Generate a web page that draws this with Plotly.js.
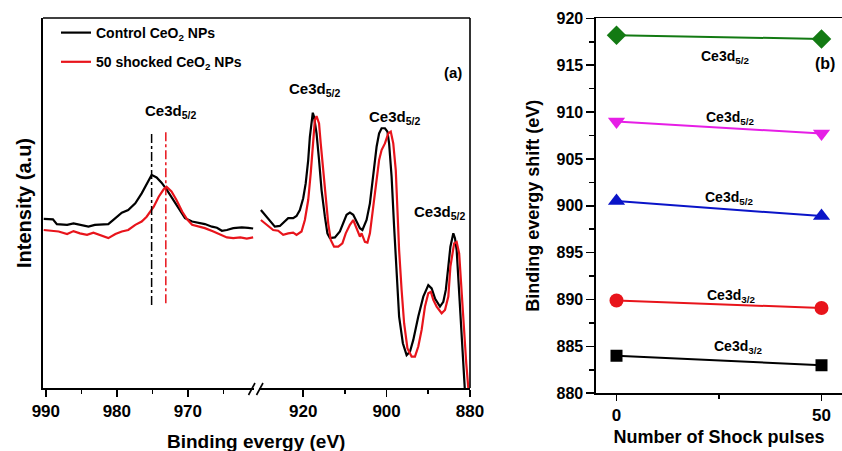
<!DOCTYPE html>
<html>
<head>
<meta charset="utf-8">
<script src="https://cdn.plot.ly/plotly-3.0.1.min.js"></script>
<style>html,body{margin:0;padding:0;background:#fff;}#chart{width:842px;height:451px;}</style>
</head>
<body>
<div id="chart"></div>
<script>
// ---------- Panel (a): XPS spectra, high-energy segment (990-960 eV) ----------
const seg1EnergyControl = [990.3,989.0,988.45,987.0,986.1,984.9,984.0,983.1,982.1,981.2,980.2,979.3,978.4,977.4,976.5,975.8,975.1,974.4,973.7,973.0,972.0,971.1,970.4,969.4,968.5,967.6,966.6,965.9,965.2,964.5,963.6,962.4,961.5,960.8];
const seg1IntensityControl = [45.7,45.6,44.3,44.1,44.5,44.1,43.6,44.1,44.3,44.3,45.9,47.4,48.1,49.9,52.6,55.3,57.6,56.9,55.5,53.7,50.8,48.1,45.9,45.0,44.7,44.3,43.6,43.3,42.5,42.7,43.2,43.4,43.3,43.1];
const seg1EnergyShocked = [990.3,989.4,988.2,987.0,986.1,985.2,984.2,983.3,982.4,981.2,980.2,979.3,978.4,977.4,976.5,975.8,974.8,974.1,973.4,973.0,972.3,971.6,970.8,970.1,969.4,968.5,967.6,966.4,965.4,964.5,963.6,962.6,961.7,960.8];
const seg1IntensityShocked = [42.7,42.5,42.3,41.6,42.4,41.8,41.4,42.0,41.4,40.5,41.6,42.3,42.7,44.1,45.0,46.3,49.0,51.7,53.7,54.4,53.1,50.8,47.7,45.6,44.1,43.6,43.2,42.3,41.4,40.7,40.5,40.7,40.4,40.7];

// ---------- Panel (a): low-energy segment (930-880 eV) ----------
const seg2EnergyControl = [930.15,929.2,928.0,926.8,925.6,924.4,923.6,922.4,921.6,920.8,920.0,919.4,918.8,918.4,918.0,917.7,917.4,916.8,916.2,915.6,914.8,914.2,913.6,912.4,911.2,910.4,909.6,908.8,908.0,907.2,906.4,905.8,904.8,904.0,903.2,902.4,901.8,901.2,900.4,899.8,899.4,898.8,898.2,897.6,897.0,896.1,895.2,894.4,893.6,892.4,891.2,890.0,889.2,888.4,887.2,886.4,885.8,885.2,884.7,884.0,883.6,883.2,882.6,882.0,881.4,881.0];
const seg2IntensityControl = [48.1,46.8,45.0,43.6,43.8,45.2,45.9,45.9,46.5,48.1,51.3,55.3,61.6,67.9,72.9,74.4,73.3,68.8,61.6,53.5,46.3,41.8,40.5,40.7,42.3,44.5,46.8,47.4,46.8,45.0,43.2,42.7,45.4,49.9,57.1,65.2,68.8,70.2,70.2,69.3,66.1,57.1,43.6,30.1,19.3,12.1,8.9,9.8,13.0,19.3,24.7,27.8,26.9,24.2,22.0,23.3,26.5,32.8,38.2,41.8,40.5,37.3,24.7,12.1,0.1,-5];
const seg2EnergyShocked = [930.15,928.8,927.2,926.0,924.8,923.6,922.4,921.6,920.4,919.6,918.8,918.2,917.6,917.2,916.8,916.2,915.8,915.2,914.6,914.0,913.4,912.6,911.6,910.6,909.8,908.8,908.0,907.2,906.4,906.0,905.2,904.6,904.0,903.2,902.4,901.8,901.2,900.4,899.6,899.0,898.4,897.8,897.4,897.0,896.4,895.8,895.0,894.0,893.2,892.4,891.6,890.8,890.0,889.4,888.8,888.0,886.8,886.0,885.2,884.7,883.8,883.2,882.6,882.1,881.6,880.9,880.3,880.0];
const seg2IntensityShocked = [45.4,44.1,42.7,42.5,41.4,41.8,42.0,41.4,42.3,45.4,50.8,58.0,66.1,72.4,73.5,71.5,66.1,58.9,50.8,44.5,40.0,38.2,38.2,39.1,41.8,44.1,45.4,43.2,40.9,41.8,39.5,39.3,41.8,49.0,57.1,61.6,64.3,66.1,68.8,69.3,66.1,58.9,48.1,37.3,26.5,17.5,10.7,8.5,8.5,11.2,15.7,22.0,25.6,26.0,23.8,22.0,20.2,21.1,24.7,32.8,39.1,39.5,36.4,27.4,16.6,6.7,-1.4,-5];

// Peak position markers (dash-dot)
const peakLineControlX = [975.1, 975.1];
const peakLineControlY = [22.4, 69.0];
const peakLineShockedX = [973.1, 973.1];
const peakLineShockedY = [22.9, 69.5];

// ---------- Panel (b): binding energy vs number of shock pulses ----------
const shockPulses = [0, 50];
const ce3d52_918 = [918.2, 917.8];
const ce3d52_909 = [909.0, 907.7];
const ce3d52_900 = [900.5, 898.9];
const ce3d32_890 = [889.9, 889.1];
const ce3d32_884 = [884.0, 883.0];

const W = 842, H = 451;
const px = v => v / W;
const py = v => 1 - v / H;
const FONT = "Arial, 'Liberation Sans', Helvetica, sans-serif";

const lineW = 2.2;
const traces = [
  {x: seg1EnergyControl, y: seg1IntensityControl, xaxis:'x', yaxis:'y', type:'scatter', mode:'lines', line:{color:'#000000', width:lineW}, name:'Control CeO<sub>2</sub> NPs', legendgroup:'g1', hoverinfo:'skip'},
  {x: seg1EnergyShocked, y: seg1IntensityShocked, xaxis:'x', yaxis:'y', type:'scatter', mode:'lines', line:{color:'#e8141b', width:lineW}, name:'50 shocked CeO<sub>2</sub> NPs', legendgroup:'g2', hoverinfo:'skip'},
  {x: seg2EnergyControl, y: seg2IntensityControl, xaxis:'x2', yaxis:'y', type:'scatter', mode:'lines', line:{color:'#000000', width:lineW}, showlegend:false, hoverinfo:'skip'},
  {x: seg2EnergyShocked, y: seg2IntensityShocked, xaxis:'x2', yaxis:'y', type:'scatter', mode:'lines', line:{color:'#e8141b', width:lineW}, showlegend:false, hoverinfo:'skip'},
  {x: peakLineControlX, y: peakLineControlY, xaxis:'x', yaxis:'y', type:'scatter', mode:'lines', line:{color:'#000000', width:1.5, dash:'dashdot'}, showlegend:false, hoverinfo:'skip'},
  {x: peakLineShockedX, y: peakLineShockedY, xaxis:'x', yaxis:'y', type:'scatter', mode:'lines', line:{color:'#e8141b', width:1.5, dash:'dashdot'}, showlegend:false, hoverinfo:'skip'},
  // panel b
  {x: shockPulses, y: ce3d52_918, xaxis:'x3', yaxis:'y3', type:'scatter', mode:'lines+markers', line:{color:'#137a13', width:2}, marker:{symbol:'diamond', size:15, color:'#137a13'}, showlegend:false, hoverinfo:'skip'},
  {x: shockPulses, y: ce3d52_909, xaxis:'x3', yaxis:'y3', type:'scatter', mode:'lines+markers', line:{color:'#e61ee6', width:2}, marker:{symbol:'triangle-down', size:15, color:'#e61ee6'}, showlegend:false, hoverinfo:'skip'},
  {x: shockPulses, y: ce3d52_900, xaxis:'x3', yaxis:'y3', type:'scatter', mode:'lines+markers', line:{color:'#0a14c8', width:2}, marker:{symbol:'triangle-up', size:15, color:'#0a14c8'}, showlegend:false, hoverinfo:'skip'},
  {x: shockPulses, y: ce3d32_890, xaxis:'x3', yaxis:'y3', type:'scatter', mode:'lines+markers', line:{color:'#e8141b', width:2}, marker:{symbol:'circle', size:14, color:'#e8141b'}, showlegend:false, hoverinfo:'skip'},
  {x: shockPulses, y: ce3d32_884, xaxis:'x3', yaxis:'y3', type:'scatter', mode:'lines+markers', line:{color:'#000000', width:2}, marker:{symbol:'square', size:12, color:'#000000'}, showlegend:false, hoverinfo:'skip'}
];

const leftBottom = 388, leftTop = 18, leftL = 43, leftR = 470;
const axisCommon = {showgrid:false, zeroline:false, showline:true, linecolor:'#000', linewidth:1.6, tickcolor:'#000', tickwidth:1.6, ticks:'outside', fixedrange:true};

const layout = {
  width: W, height: H,
  margin: {l:0, r:0, t:0, b:0, pad:0},
  paper_bgcolor:'#fff', plot_bgcolor:'#fff',
  font: {family: FONT, size: 16, color:'#000', weight: 'bold'},
  showlegend: true,
  legend: {x: px(56), y: py(17), xanchor:'left', yanchor:'top', bgcolor:'rgba(0,0,0,0)', borderwidth:0,
           font:{family:FONT, size:14, color:'#000', weight:'bold'}, traceorder:'grouped', tracegroupgap:8},
  xaxis: Object.assign({}, axisCommon, {domain:[px(leftL), px(254)], range:[990.4, 960.68], anchor:'y',
    tickvals:[990,980,970], ticktext:['990','980','970'], ticklen:7, tickfont:{size:17, weight:'bold'},
    minor:{tickvals:[985,975,965], ticklen:4, tickcolor:'#000', tickwidth:1.6, ticks:'outside'}}),
  xaxis2: Object.assign({}, axisCommon, {domain:[px(259), px(leftR)], range:[930.6, 880], anchor:'y',
    tickvals:[920,900,880], ticktext:['920','900','880'], ticklen:7, tickfont:{size:17, weight:'bold'},
    minor:{tickvals:[910,890], ticklen:4, tickcolor:'#000', tickwidth:1.6, ticks:'outside'}}),
  yaxis: Object.assign({}, axisCommon, {domain:[py(leftBottom), py(leftTop)], range:[0,100], anchor:'x',
    ticks:'', showticklabels:false,
    title:{text:'Intensity (a.u)', font:{size:20, weight:'bold'}, standoff:4}}),
  xaxis3: Object.assign({}, axisCommon, {domain:[px(596), 1], range:[-5,55], anchor:'y3', mirror:true,
    tickvals:[0,50], ticktext:['0','50'], ticklen:6, tickfont:{size:17, weight:'bold'},
    minor:{tickvals:[25], ticklen:4, tickcolor:'#000', tickwidth:1.6, ticks:'outside'},
    title:{text:'Number of Shock pulses', font:{size:18, weight:'bold'}, standoff:6}}),
  yaxis3: Object.assign({}, axisCommon, {domain:[py(393.3), py(18.3)], range:[880,920], anchor:'x3',
    dtick:5, tick0:880, ticklen:8, tickfont:{size:16, weight:'bold'},
    minor:{dtick:2.5, ticklen:5, tickcolor:'#000', tickwidth:1.6, ticks:'outside'},
    title:{text:'Binding evergy shift (eV)', font:{size:18, weight:'bold'}, standoff:12}}),
  shapes: [
    {type:'line', xref:'paper', yref:'paper', x0:px(leftL), x1:px(leftR), y0:py(leftTop), y1:py(leftTop), line:{color:'#000', width:1.6}},
    {type:'line', xref:'paper', yref:'paper', x0:px(leftR), x1:px(leftR), y0:py(leftBottom), y1:py(leftTop), line:{color:'#000', width:1.6}},
    {type:'line', xref:'paper', yref:'paper', x0:px(248.5), x1:px(255), y0:py(395), y1:py(383), line:{color:'#000', width:1.6}},
    {type:'line', xref:'paper', yref:'paper', x0:px(256.5), x1:px(263), y0:py(395), y1:py(383), line:{color:'#000', width:1.6}}
  ],
  annotations: [
    {xref:'paper', yref:'paper', x:px(256), y:py(429), xanchor:'center', yanchor:'top', text:'Binding evergy (eV)', showarrow:false, font:{size:19, weight:'bold'}},
    {xref:'x', yref:'y', x:972.5, y:74.6, text:'Ce3d<sub>5/2</sub>', showarrow:false, font:{size:15, weight:'bold'}},
    {xref:'x2', yref:'y', x:917.2, y:80.8, text:'Ce3d<sub>5/2</sub>', showarrow:false, font:{size:15, weight:'bold'}},
    {xref:'x2', yref:'y', x:898.2, y:73.2, text:'Ce3d<sub>5/2</sub>', showarrow:false, font:{size:15, weight:'bold'}},
    {xref:'x2', yref:'y', x:887.2, y:47.3, text:'Ce3d<sub>5/2</sub>', showarrow:false, font:{size:15, weight:'bold'}},
    {xref:'x2', yref:'y', x:884.1, y:85.4, text:'(a)', showarrow:false, font:{size:15, weight:'bold'}},
    {xref:'x3', yref:'y3', x:26.4, y:915.9, text:'Ce3d<sub>5/2</sub>', showarrow:false, font:{size:14, weight:'bold'}},
    {xref:'x3', yref:'y3', x:27.6, y:909.4, text:'Ce3d<sub>5/2</sub>', showarrow:false, font:{size:14, weight:'bold'}},
    {xref:'x3', yref:'y3', x:27.4, y:900.8, text:'Ce3d<sub>5/2</sub>', showarrow:false, font:{size:14, weight:'bold'}},
    {xref:'x3', yref:'y3', x:27.9, y:890.4, text:'Ce3d<sub>3/2</sub>', showarrow:false, font:{size:14, weight:'bold'}},
    {xref:'x3', yref:'y3', x:29.6, y:884.9, text:'Ce3d<sub>3/2</sub>', showarrow:false, font:{size:14, weight:'bold'}},
    {xref:'x3', yref:'y3', x:50.8, y:915.2, text:'(b)', showarrow:false, font:{size:16, weight:'bold'}}
  ]
};

Plotly.newPlot('chart', traces, layout, {displayModeBar:false, staticPlot:true});
</script>
</body>
</html>
